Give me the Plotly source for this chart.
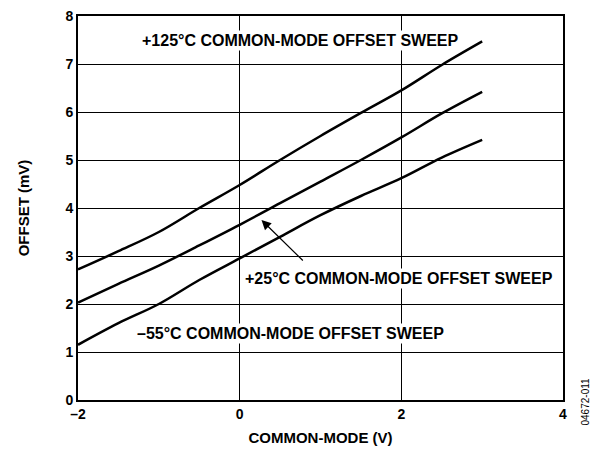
import plotly.graph_objects as go

x_vals = [-2, -1.5, -1, -0.5, 0, 0.5, 1, 1.5, 2, 2.5, 3]
off_125 = [2.72, 3.1, 3.5, 4.0, 4.48, 5.0, 5.5, 5.98, 6.45, 6.98, 7.47]
off_25 = [2.03, 2.42, 2.8, 3.22, 3.65, 4.1, 4.55, 5.0, 5.47, 5.97, 6.42]
off_m55 = [1.15, 1.6, 2.0, 2.5, 2.95, 3.4, 3.85, 4.25, 4.62, 5.05, 5.42]
x_ticks = [-2, 0, 2, 4]
x_tick_text = ["–2", "0", "2", "4"]
y_ticks = [0, 1, 2, 3, 4, 5, 6, 7, 8]

font = "Liberation Sans, Arial, sans-serif"
fig = go.Figure()
for ys in (off_125, off_25, off_m55):
    fig.add_trace(go.Scatter(x=x_vals, y=ys, mode="lines",
                             line=dict(color="black", width=2.5, shape="spline"),
                             showlegend=False))

# page body has an 8px offset, compensate in margins
L, T, R, B = 70, 8, 45, 64
tick_font = dict(size=14, family=font, weight="bold", color="black")
fig.update_layout(
    width=600, height=456,
    margin=dict(l=L, r=R, t=T, b=B),
    paper_bgcolor="white", plot_bgcolor="white",
    font=dict(family=font, color="black", size=13),
    xaxis=dict(range=[-2, 4], tickvals=x_ticks, ticktext=x_tick_text,
               showgrid=True, gridcolor="black", gridwidth=1,
               showline=True, linecolor="black", linewidth=2, mirror=True,
               zeroline=False, ticks="", tickfont=tick_font, automargin=False,
               ticklabeloverflow="allow",
               title=dict(text="COMMON-MODE (V)",
                          font=dict(size=15, family=font, weight="bold"), standoff=12)),
    yaxis=dict(range=[0, 8], tickvals=y_ticks,
               showgrid=True, gridcolor="black", gridwidth=1,
               showline=True, linecolor="black", linewidth=2, mirror=True,
               zeroline=False, ticks="", tickfont=tick_font, automargin=False,
               ticklabeloverflow="allow",
               title=dict(text="OFFSET (mV)",
                          font=dict(size=15, family=font, weight="bold"), standoff=32)),
)

ann_font = dict(family=font, size=16, color="black", weight="bold")
fig.add_annotation(x=0.75, y=7.5, text="+125°C COMMON-MODE OFFSET SWEEP",
                   showarrow=False, font=ann_font, bgcolor="white")
fig.add_annotation(x=1.97, y=2.54, text="+25°C COMMON-MODE OFFSET SWEEP",
                   showarrow=False, font=ann_font, bgcolor="white")
fig.add_annotation(x=0.63, y=1.38, text="–55°C COMMON-MODE OFFSET SWEEP",
                   showarrow=False, font=ann_font, bgcolor="white")
fig.add_annotation(x=0.27, y=3.75, ax=0.80, ay=2.875, xref="x", yref="y",
                   axref="x", ayref="y", text="", showarrow=True,
                   arrowhead=2, arrowsize=1.6, arrowwidth=1.2, arrowcolor="black")
pw, ph = 600 - L - R, 456 - T - B
fig.add_annotation(xref="paper", yref="paper",
                   x=(584 - L) / pw, y=(456 - B - 420) / ph,
                   text="04672-011", textangle=-90, showarrow=False,
                   font=dict(family=font, size=10, color="black"))

fig.write_html("out.html")
